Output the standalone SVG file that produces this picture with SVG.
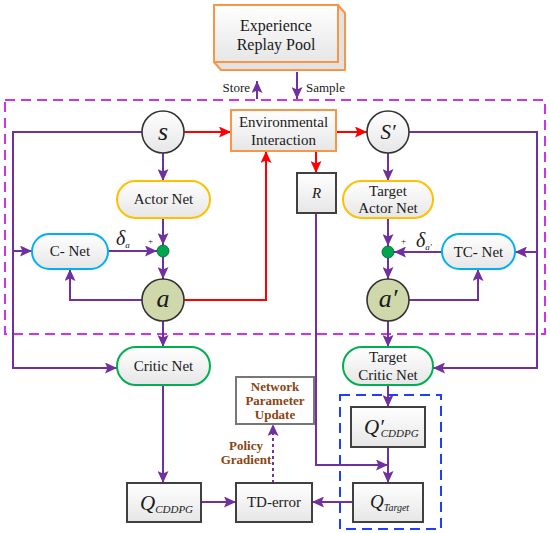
<svg xmlns="http://www.w3.org/2000/svg" width="550" height="533" viewBox="0 0 550 533">
<style>
text{font-family:"Liberation Serif","Times New Roman",serif;fill:#1a1a1a;}
.t14{font-size:15px;text-anchor:middle;}
.t12{font-size:13px;}
.it{font-style:italic;}
.p{stroke:#7030a0;stroke-width:2;fill:none;}
.r{stroke:#ff0000;stroke-width:2;fill:none;}
.box{stroke:#404040;stroke-width:2;fill:url(#g);}
.circ{stroke:#333333;stroke-width:1.6;fill:url(#g);}
.brown{fill:#8b4513;font-weight:bold;font-size:13px;text-anchor:middle;}
</style>
<defs>
<linearGradient id="g" x1="0" y1="0" x2="0" y2="1"><stop offset="0" stop-color="#ffffff"/><stop offset="1" stop-color="#e6e6e6"/></linearGradient>
<marker id="ap" viewBox="0 0 10 10" refX="10" refY="5" markerWidth="6" markerHeight="5.5" orient="auto" markerUnits="strokeWidth" preserveAspectRatio="none"><path d="M0,0L10,5L0,10L2,5z" fill="#7030a0"/></marker>
<marker id="ar" viewBox="0 0 10 10" refX="10" refY="5" markerWidth="6" markerHeight="5.5" orient="auto" markerUnits="strokeWidth" preserveAspectRatio="none"><path d="M0,0L10,5L0,10L2,5z" fill="#ff0000"/></marker>
</defs>

<rect x="5" y="100" width="540" height="234" fill="none" stroke="#cc33ee" stroke-width="2" stroke-dasharray="10,6"/>
<rect x="340" y="395" width="101" height="134" fill="none" stroke="#1f3fff" stroke-width="2" stroke-dasharray="10,6"/>

<g id="connectors">
<path class="p" d="M257,99V81" marker-end="url(#ap)"/>
<path class="p" d="M297,72V99" marker-end="url(#ap)"/>
<path class="r" d="M184,132H231" marker-end="url(#ar)"/>
<path class="r" d="M336,132H367" marker-end="url(#ar)"/>
<path class="r" d="M316,151V173" marker-end="url(#ar)"/>
<path class="r" d="M184,300H266V151" marker-end="url(#ar)"/>
<path class="p" d="M163,153V181" marker-end="url(#ap)"/>
<path class="p" d="M163,218V245" marker-end="url(#ap)"/>
<path class="p" d="M108,251H157" marker-end="url(#ap)"/>
<path class="p" d="M163,257V279" marker-end="url(#ap)"/>
<path class="p" d="M142,300H70V269" marker-end="url(#ap)"/>
<path class="p" d="M142,132H13V368H117" marker-end="url(#ap)"/>
<path class="p" d="M13,251H32" marker-end="url(#ap)"/>
<path class="p" d="M163,321V347" marker-end="url(#ap)"/>
<path class="p" d="M388,153V181" marker-end="url(#ap)"/>
<path class="p" d="M388,218V246" marker-end="url(#ap)"/>
<path class="p" d="M442,252H394" marker-end="url(#ap)"/>
<path class="p" d="M388,258V279" marker-end="url(#ap)"/>
<path class="p" d="M409,300H478V269" marker-end="url(#ap)"/>
<path class="p" d="M409,132H537V368H433" marker-end="url(#ap)"/>
<path class="p" d="M537,252H515" marker-end="url(#ap)"/>
<path class="p" d="M388,321V347" marker-end="url(#ap)"/>
<path class="p" d="M316,213V465H388" marker-end="url(#ap)"/>
<path class="p" d="M388,385V407" marker-end="url(#ap)"/>
<path class="p" d="M388,447V483" marker-end="url(#ap)"/>
<path class="p" d="M353,502H312" marker-end="url(#ap)"/>
<path class="p" d="M163,385V483" marker-end="url(#ap)"/>
<path class="p" d="M201,502H236" marker-end="url(#ap)"/>
<path class="p" d="M273,483V424" stroke-dasharray="3,3" marker-end="url(#ap)"/>
</g>

<g id="replay">
<path d="M214,62L221,70H345V13L338,5V62Z" fill="#e2e2e2" stroke="#f79646" stroke-width="2" stroke-linejoin="round"/>
<rect x="214" y="5" width="124" height="57" fill="url(#g)" stroke="#f79646" stroke-width="2"/>
<text class="t14" x="276" y="31" style="font-size:16px">Experience</text>
<text class="t14" x="276" y="50" style="font-size:16px">Replay Pool</text>
</g>
<text class="t12" x="250" y="92" text-anchor="end">Store</text>
<text class="t12" x="306" y="92">Sample</text>

<g id="env">
<rect x="231" y="110" width="105" height="41" fill="url(#g)" stroke="#f79646" stroke-width="2"/>
<text class="t14" x="283.5" y="127">Environmental</text>
<text class="t14" x="283.5" y="145">Interaction</text>
</g>

<g id="s"><circle class="circ" cx="163" cy="132" r="21"/><text class="it" x="163" y="140" text-anchor="middle" font-size="26">s</text></g>
<g id="sp"><circle class="circ" cx="388" cy="132" r="21"/><text class="it" x="388" y="139" text-anchor="middle" font-size="21">S′</text></g>

<g id="R"><rect class="box" x="297" y="173" width="39" height="40"/><text class="it t14" x="316.5" y="198">R</text></g>

<g id="actor"><rect x="117" y="181" width="93" height="37" rx="18.5" fill="url(#g)" stroke="#ffc000" stroke-width="2"/><text class="t14" x="163.5" y="204">Actor Net</text></g>
<g id="tactor"><rect x="343" y="181" width="90" height="37" rx="18.5" fill="url(#g)" stroke="#ffc000" stroke-width="2"/><text class="t14" x="388" y="196">Target</text><text class="t14" x="388" y="213">Actor Net</text></g>

<g id="cnet"><rect x="32" y="234" width="76" height="35" rx="17.5" fill="url(#g)" stroke="#00b0f0" stroke-width="2"/><text class="t14" x="70" y="256">C- Net</text></g>
<g id="tcnet"><rect x="442" y="234" width="73" height="35" rx="17.5" fill="url(#g)" stroke="#00b0f0" stroke-width="2"/><text class="t14" x="478.5" y="257">TC- Net</text></g>

<g id="sum1"><circle cx="163" cy="251" r="6" fill="#00a550" stroke="#005a2a" stroke-width="0.8"/></g>
<g id="sum2"><circle cx="388" cy="252" r="6" fill="#00a550" stroke="#005a2a" stroke-width="0.8"/></g>
<text x="116" y="245" font-size="20" class="it">δ<tspan font-size="9" dy="3">a</tspan></text>
<text x="148" y="244" font-size="9">+</text>
<text x="416" y="247" font-size="20" class="it">δ<tspan font-size="9" dy="3">a′</tspan></text>
<text x="401" y="244" font-size="9">+</text>

<g id="a"><circle cx="163" cy="300" r="21" fill="#cfd8aa" stroke="#333333" stroke-width="1.6"/><text class="it" x="163" y="307" text-anchor="middle" font-size="26">a</text></g>
<g id="ap2"><circle cx="388" cy="300" r="21" fill="#cfd8aa" stroke="#333333" stroke-width="1.6"/><text class="it" x="388" y="307" text-anchor="middle" font-size="26">a′</text></g>

<g id="critic"><rect x="117" y="347" width="93" height="38" rx="19" fill="url(#g)" stroke="#00b050" stroke-width="2"/><text class="t14" x="163.5" y="371">Critic Net</text></g>
<g id="tcritic"><rect x="343" y="347" width="90" height="38" rx="19" fill="url(#g)" stroke="#00b050" stroke-width="2"/><text class="t14" x="388" y="362">Target</text><text class="t14" x="388" y="380">Critic Net</text></g>

<g id="npu"><rect x="236" y="377" width="78" height="47" fill="#ffffff" stroke="#777777" stroke-width="2"/>
<text class="brown" x="275" y="391">Network</text><text class="brown" x="275" y="405">Parameter</text><text class="brown" x="275" y="419">Update</text></g>
<text class="brown" x="246" y="450">Policy</text>
<text class="brown" x="246" y="464">Gradient</text>

<g id="qc"><rect class="box" x="127" y="483" width="74" height="39"/><text class="it" x="140" y="510" font-size="21">Q<tspan font-size="11" dy="3">CDDPG</tspan></text></g>
<g id="td"><rect class="box" x="236" y="483" width="76" height="39"/><text class="t14" x="274" y="507">TD-error</text></g>
<g id="qcp"><rect class="box" x="351" y="407" width="74" height="40"/><text class="it" x="364" y="434" font-size="21">Q′<tspan font-size="11" dy="3" dx="-3">CDDPG</tspan></text></g>
<g id="qt"><rect class="box" x="353" y="483" width="70" height="39"/><text class="it" x="370" y="508" font-size="19">Q<tspan font-size="10" dy="3">Target</tspan></text></g>
</svg>
